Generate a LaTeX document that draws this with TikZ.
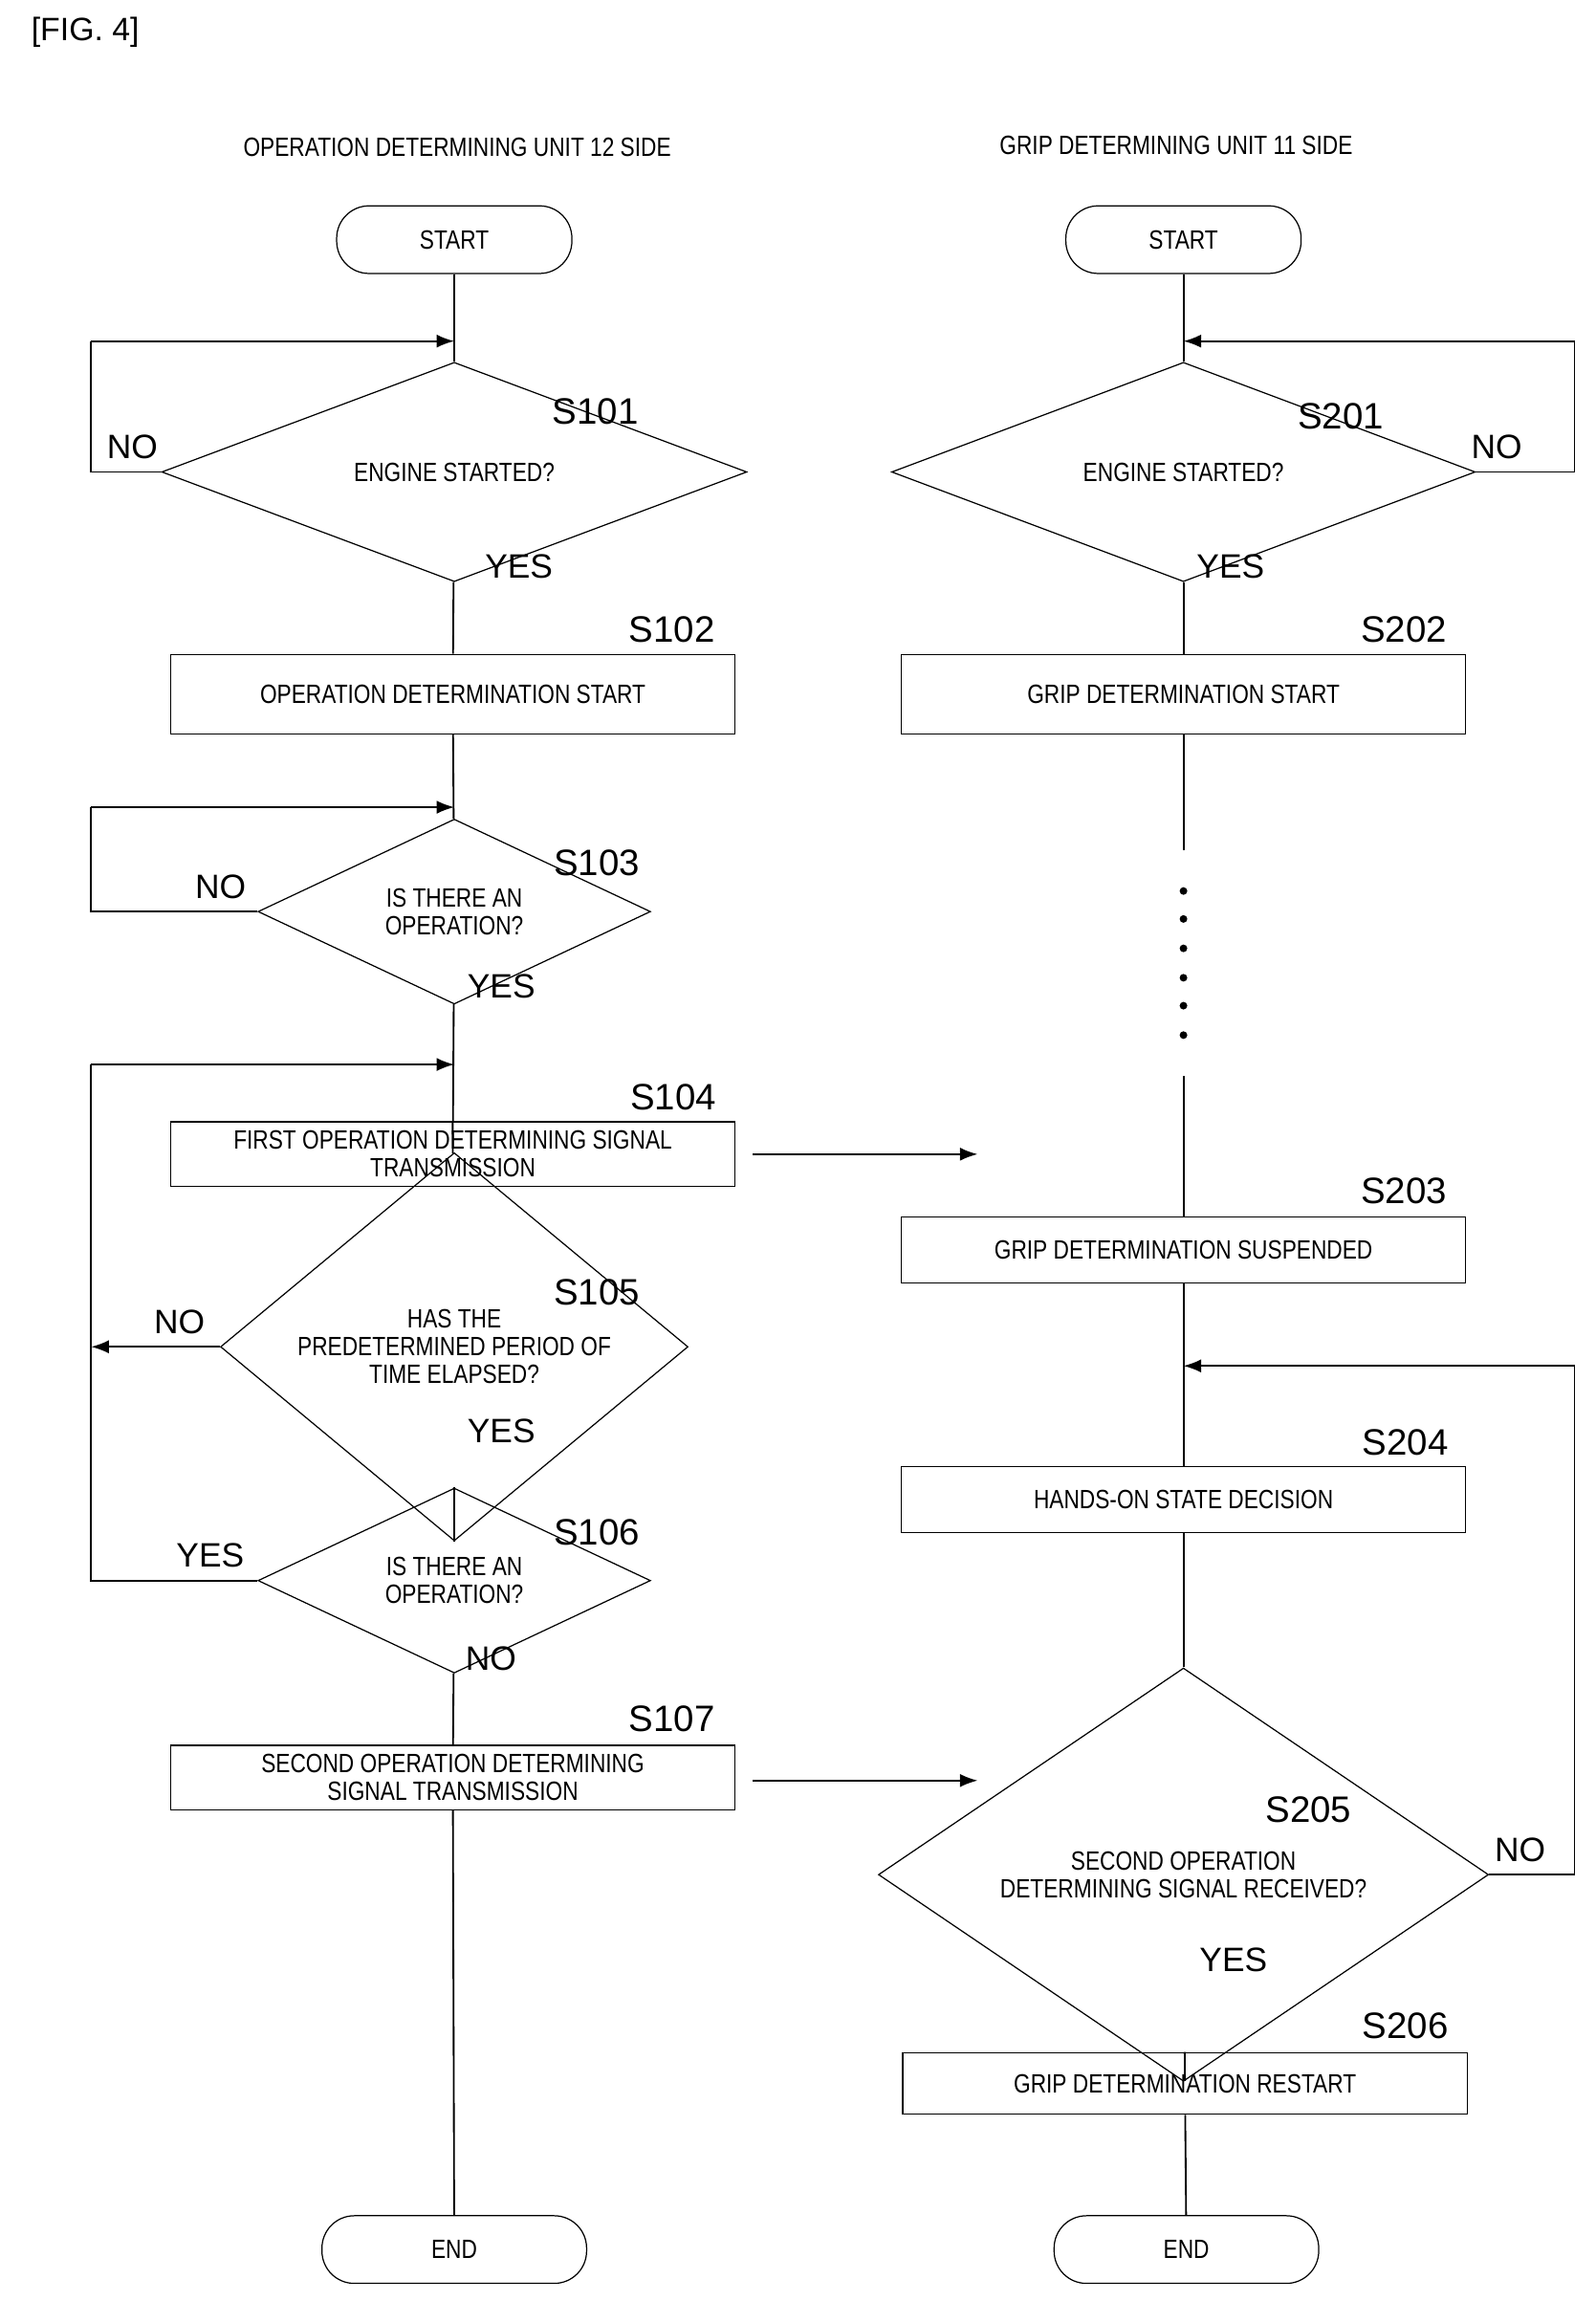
\documentclass[tikz,border=0pt]{standalone}
\usepackage{fontspec}
\setmainfont{Liberation Sans}
\newfontfamily\nar[FakeStretch=0.82]{Liberation Sans}
\usetikzlibrary{shapes.geometric,arrows.meta}
\begin{document}
\begin{tikzpicture}[x=0.5pt,y=-0.5pt,
 every node/.style={font=\nar\fontsize{9}{9.5}\selectfont, inner sep=0pt, align=center},
 term/.style={draw, rounded corners=11pt, minimum width=80pt, minimum height=23pt},
 box/.style={draw, minimum width=192pt, minimum height=27pt},
 dia/.style={draw, diamond, inner sep=0pt},
 lab/.style={font=\fontsize{12.5}{13}\selectfont},
 yn/.style={font=\fontsize{11.5}{12}\selectfont},
 line/.style={draw, line width=0.6pt},
 arr/.style={line, -{Latex[length=6pt,width=4.5pt]}}]
\useasboundingbox (0,0) rectangle (1085,1565);
\node[font=\fontsize{11}{12}\selectfont] (fig) at (58,22) {[FIG. 4]};
\node (h1) at (311,100) {OPERATION DETERMINING UNIT 12 SIDE};
\node (h2) at (800,99) {GRIP DETERMINING UNIT 11 SIDE};
% left column
\node[term] (st1) at (309,163) {START};
\node[dia, minimum width=199pt, minimum height=41.5pt] (d101) at (309,321) {ENGINE STARTED?};
\node[box] (b102) at (308,472) {OPERATION DETERMINATION START};
\node[dia, minimum width=133.5pt, minimum height=36.5pt] (d103) at (309,620) {IS THERE AN\\OPERATION?};
\node[box, minimum height=22pt] (b104) at (308,785) {FIRST OPERATION DETERMINING SIGNAL\\TRANSMISSION};
\node[dia, minimum width=159pt, minimum height=42pt] (d105) at (309,916) {HAS THE\\PREDETERMINED PERIOD OF\\TIME ELAPSED?};
\node[dia, minimum width=133.5pt, minimum height=35pt] (d106) at (309,1075) {IS THERE AN\\OPERATION?};
\node[box, minimum height=22pt] (b107) at (308,1209) {SECOND OPERATION DETERMINING\\SIGNAL TRANSMISSION};
\node[term, minimum width=90pt] (en1) at (309,1530) {END};
% labels left
\node[lab] (l101) at (405,280) {S101};
\node[lab] (l102) at (457,428) {S102};
\node[lab] (l103) at (406,587) {S103};
\node[lab] (l104) at (458,746) {S104};
\node[lab] (l105) at (406,879) {S105};
\node[lab] (l106) at (406,1042) {S106};
\node[lab] (l107) at (457,1169) {S107};
\node[yn] (n1) at (90,304) {NO};
\node[yn] (y1) at (353,385) {YES};
\node[yn] (n3) at (150,603) {NO};
\node[yn] (y3) at (341,671) {YES};
\node[yn] (n5) at (122,899) {NO};
\node[yn] (y5) at (341,973) {YES};
\node[yn] (y6) at (143,1058) {YES};
\node[yn] (n6) at (334,1128) {NO};
% right column
\node[term] (st2) at (805,163) {START};
\node[dia, minimum width=198.5pt, minimum height=41.5pt] (d201) at (805,321) {ENGINE STARTED?};
\node[box] (b202) at (805,472) {GRIP DETERMINATION START};
\node[box, minimum height=22.5pt] (b203) at (805,850) {GRIP DETERMINATION SUSPENDED};
\node[box, minimum height=22.5pt] (b204) at (805,1020) {HANDS-ON STATE DECISION};
\node[dia, minimum width=207.5pt, minimum height=42pt] (d205) at (805,1275) {SECOND OPERATION\\DETERMINING SIGNAL RECEIVED?};
\node[box, minimum height=21pt] (b206) at (806,1417) {GRIP DETERMINATION RESTART};
\node[term, minimum width=90pt] (en2) at (807,1530) {END};
\node[lab] (l201) at (912,283) {S201};
\node[lab] (l202) at (955,428) {S202};
\node[lab] (l203) at (955,810) {S203};
\node[lab] (l204) at (956,981) {S204};
\node[lab] (l205) at (890,1231) {S205};
\node[lab] (l206) at (956,1378) {S206};
\node[yn] (n201) at (1018,304) {NO};
\node[yn] (y201) at (837,385) {YES};
\node[yn] (n205) at (1034,1258) {NO};
\node[yn] (y205) at (839,1333) {YES};
% coordinates
\coordinate (a1) at (309,232); \coordinate (a1l) at (62,232); \coordinate (a1b) at (62,321);
\coordinate (a3) at (309,549); \coordinate (a3l) at (62,549); \coordinate (a3b) at (62,620);
\coordinate (a4) at (309,724); \coordinate (a4l) at (62,724); \coordinate (a4b) at (62,1075);
\coordinate (a5) at (62,916);
\coordinate (r1) at (805,232); \coordinate (r1r) at (1071,232); \coordinate (r1b) at (1071,321);
\coordinate (r4) at (805,929); \coordinate (r4r) at (1071,929); \coordinate (r4b) at (1071,1275);
\coordinate (s1) at (512,785); \coordinate (e1) at (665,785);
\coordinate (s2) at (512,1211); \coordinate (e2) at (665,1211);
\coordinate (g1) at (805,578); \coordinate (g2) at (805,732);
% left connectors
\draw[line] (st1) -- (d101);
\draw[line] (d101.west) -- (a1b) -- (a1l); \draw[arr] (a1l) -- (a1);
\draw[line] (d101) -- (b102);
\draw[line] (b102) -- (d103);
\draw[line] (d103.west) -- (a3b) -- (a3l); \draw[arr] (a3l) -- (a3);
\draw[line] (d103) -- (b104);
\draw[line] (d106.west) -- (a4b) -- (a4l); \draw[arr] (a4l) -- (a4);
\draw[line] (b104) -- (d105);
\draw[arr] (d105.west) -- (a5);
\draw[line] (d105) -- (d106);
\draw[line] (d106) -- (b107);
\draw[line] (b107) -- (en1);
\draw[arr] (s1) -- (e1);
\draw[arr] (s2) -- (e2);
% right connectors
\draw[line] (st2) -- (d201);
\draw[line] (d201.east) -- (r1b) -- (r1r); \draw[arr] (r1r) -- (r1);
\draw[line] (d201) -- (b202);
\draw[line] (b202) -- (g1);
\foreach \yy in {606,625,645,665,684,704} \fill (805,\yy) circle (2.6);
\draw[line] (g2) -- (b203);
\draw[line] (b203) -- (b204);
\draw[line] (b204) -- (d205);
\draw[line] (d205.east) -- (r4b) -- (r4r); \draw[arr] (r4r) -- (r4);
\draw[line] (d205) -- (b206);
\draw[line] (b206) -- (en2);
\end{tikzpicture}
\end{document}
